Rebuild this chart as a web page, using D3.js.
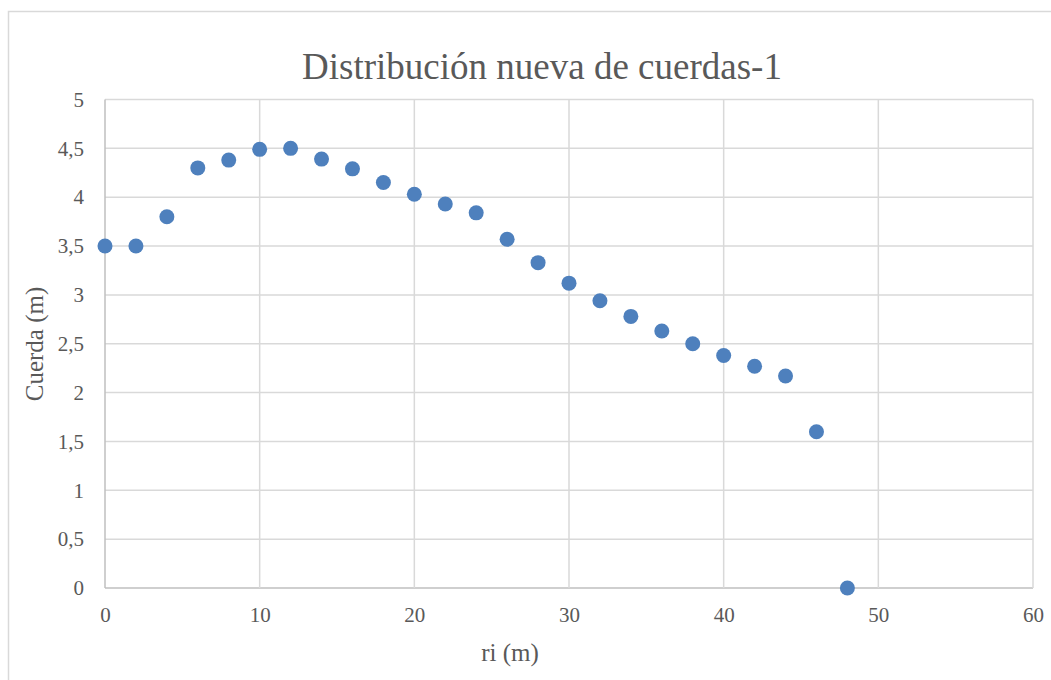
<!DOCTYPE html>
<html>
<head>
<meta charset="utf-8">
<script src="https://cdn.jsdelivr.net/npm/d3@7"></script>
<style>
  html, body { margin: 0; padding: 0; background: #fff; }
  svg { display: block; }
</style>
</head>
<body>
<svg id="chart" width="1051" height="680"></svg>
<script>
const titleText = "Distribución nueva de cuerdas-1";
const xTitle = "ri (m)";
const yTitle = "Cuerda (m)";
const riValues = [0, 2, 4, 6, 8, 10, 12, 14, 16, 18, 20, 22, 24, 26, 28, 30, 32, 34, 36, 38, 40, 42, 44, 46, 48];
const cuerdaValues = [3.5, 3.5, 3.8, 4.3, 4.38, 4.49, 4.5, 4.39, 4.29, 4.15, 4.03, 3.93, 3.84, 3.57, 3.33, 3.12, 2.94, 2.78, 2.63, 2.5, 2.38, 2.27, 2.17, 1.6, 0];
const xTicks = [0, 10, 20, 30, 40, 50, 60];
const yTicks = [0, 0.5, 1, 1.5, 2, 2.5, 3, 3.5, 4, 4.5, 5];

const FONT = "'Liberation Serif', 'Times New Roman', serif";
const TXT = "#595959";
const svg = d3.select("#chart");
const W = 1051, H = 680;
const plot = { left: 105, right: 1033, top: 99.5, bottom: 588 };

// outer chart border
svg.append("rect")
  .attr("x", 8.5).attr("y", 11.5)
  .attr("width", W + 10).attr("height", H + 10)
  .attr("fill", "#fff").attr("stroke", "#d9d9d9").attr("stroke-width", 1.5);

const x = d3.scaleLinear().domain([0, 60]).range([plot.left, plot.right]);
const y = d3.scaleLinear().domain([0, 5]).range([plot.bottom, plot.top]);

// gridlines
const grid = svg.append("g");
grid.selectAll("line.h").data(yTicks).join("line")
  .attr("x1", plot.left).attr("x2", plot.right)
  .attr("y1", d => y(d)).attr("y2", d => y(d))
  .attr("stroke", d => d === 0 ? "#bfbfbf" : "#d9d9d9").attr("stroke-width", 1.5);
grid.selectAll("line.v").data(xTicks).join("line")
  .attr("y1", plot.top).attr("y2", plot.bottom)
  .attr("x1", d => x(d)).attr("x2", d => x(d))
  .attr("stroke", d => d === 0 ? "#bfbfbf" : "#d9d9d9").attr("stroke-width", 1.5);

// axes labels via d3 axes
const fmt = d => String(d).replace(".", ",");
const xAxis = svg.append("g").attr("transform", `translate(0,${plot.bottom})`)
  .call(d3.axisBottom(x).tickValues(xTicks).tickSize(0).tickPadding(19).tickFormat(fmt));
const yAxis = svg.append("g").attr("transform", `translate(${plot.left},0)`)
  .call(d3.axisLeft(y).tickValues(yTicks).tickSize(0).tickPadding(21).tickFormat(fmt));
[xAxis, yAxis].forEach(a => {
  a.select(".domain").remove();
  a.attr("font-family", null).attr("font-size", null);
  a.selectAll("text").style("font-family", FONT)
    .style("font-size", "21px").style("fill", TXT);
});

// points
svg.append("g").selectAll("circle").data(riValues.map((r, i) => [r, cuerdaValues[i]])).join("circle")
  .attr("cx", d => x(d[0])).attr("cy", d => y(d[1])).attr("r", 7.5)
  .attr("fill", "#4e80bd");

// title
svg.append("text").attr("x", 542).attr("y", 79).attr("text-anchor", "middle")
  .style("font-family", FONT).style("font-size", "37px").style("fill", TXT).text(titleText);

// axis titles
svg.append("text").attr("x", 510).attr("y", 661)
  .attr("text-anchor", "middle")
  .style("font-family", FONT).style("font-size", "25px").style("fill", TXT).text(xTitle);
svg.append("text").attr("transform", `translate(43,344) rotate(-90)`)
  .attr("text-anchor", "middle")
  .style("font-family", FONT).style("font-size", "25px").style("fill", TXT).text(yTitle);
</script>
</body>
</html>
